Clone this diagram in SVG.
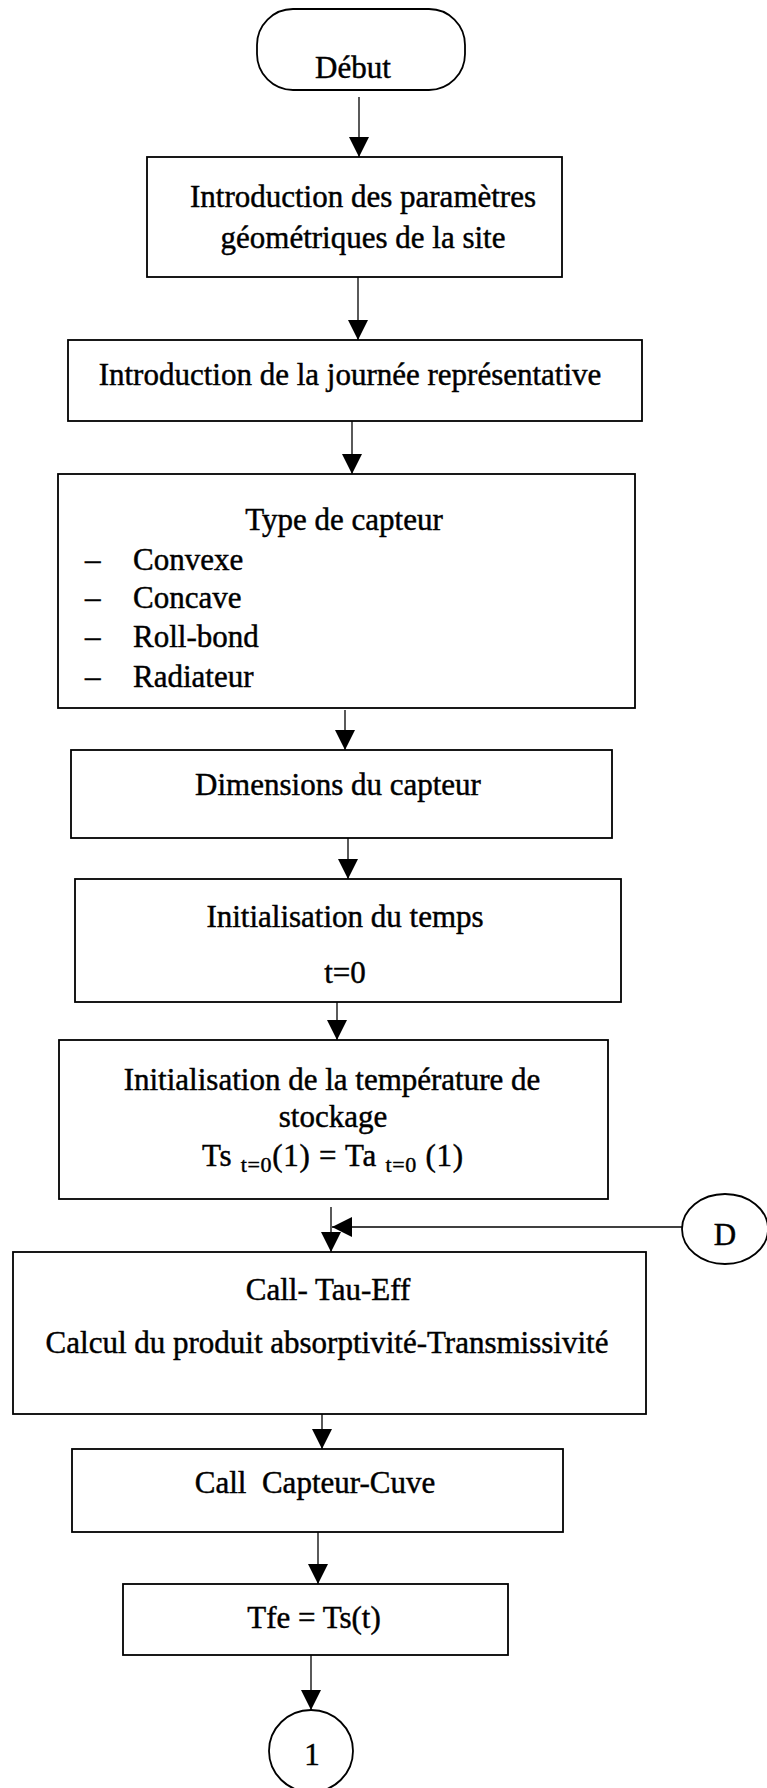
<svg xmlns="http://www.w3.org/2000/svg" width="767" height="1788" viewBox="0 0 767 1788">
  <defs>
    <style>
      .box { fill: #ffffff; stroke: #000000; stroke-width: 1.8; }
      .edge { fill: none; stroke: #000000; stroke-width: 1.3; }
      .t { font-family: "Liberation Serif", "Times New Roman", serif; font-size: 31px; fill: #000000; stroke: #000000; stroke-width: 0.45; }
      .c { text-anchor: middle; }
      .sub { font-size: 22px; }
    </style>
    <marker id="arrow" viewBox="0 0 20 20" refX="20" refY="10" markerWidth="20" markerHeight="20" markerUnits="userSpaceOnUse" orient="auto">
      <path d="M0,0 L20,10 L0,20 Z" fill="#000000"/>
    </marker>
  </defs>

  <rect width="767" height="1788" fill="#ffffff"/>

  <!-- connectors -->
  <g id="connectors">
    <line class="edge" x1="359" y1="97" x2="359" y2="157" marker-end="url(#arrow)"/>
    <line class="edge" x1="358" y1="277" x2="358" y2="340" marker-end="url(#arrow)"/>
    <line class="edge" x1="352" y1="421" x2="352" y2="474" marker-end="url(#arrow)"/>
    <line class="edge" x1="345" y1="710" x2="345" y2="750" marker-end="url(#arrow)"/>
    <line class="edge" x1="348" y1="838" x2="348" y2="879" marker-end="url(#arrow)"/>
    <line class="edge" x1="337" y1="1002" x2="337" y2="1040" marker-end="url(#arrow)"/>
    <line class="edge" x1="331" y1="1207" x2="331" y2="1252" marker-end="url(#arrow)"/>
    <line class="edge" x1="682" y1="1227" x2="332" y2="1227" marker-end="url(#arrow)"/>
    <line class="edge" x1="322" y1="1414" x2="322" y2="1449" marker-end="url(#arrow)"/>
    <line class="edge" x1="318" y1="1532" x2="318" y2="1584" marker-end="url(#arrow)"/>
    <line class="edge" x1="311" y1="1655" x2="311" y2="1710" marker-end="url(#arrow)"/>
  </g>

  <!-- start terminal -->
  <g id="debut">
    <rect class="box" x="257" y="9" width="208" height="81" rx="36" ry="36"/>
    <text class="t c" x="353" y="78">Début</text>
  </g>

  <g id="parametres-geometriques">
    <rect class="box" x="147" y="157" width="415" height="120"/>
    <text class="t c" x="363" y="207">Introduction des paramètres</text>
    <text class="t c" x="363" y="248">géométriques de la site</text>
  </g>

  <g id="journee-representative">
    <rect class="box" x="68" y="340" width="574" height="81"/>
    <text class="t c" x="350" y="385">Introduction de la journée représentative</text>
  </g>

  <g id="type-capteur">
    <rect class="box" x="58" y="474" width="577" height="234"/>
    <text class="t c" x="344" y="530">Type de capteur</text>
    <text class="t" x="85" y="570">–</text>
    <text class="t" x="133" y="570">Convexe</text>
    <text class="t" x="85" y="608">–</text>
    <text class="t" x="133" y="608">Concave</text>
    <text class="t" x="85" y="647">–</text>
    <text class="t" x="133" y="647">Roll-bond</text>
    <text class="t" x="85" y="687">–</text>
    <text class="t" x="133" y="687">Radiateur</text>
  </g>

  <g id="dimensions">
    <rect class="box" x="71" y="750" width="541" height="88"/>
    <text class="t c" x="338" y="795">Dimensions du capteur</text>
  </g>

  <g id="init-temps">
    <rect class="box" x="75" y="879" width="546" height="123"/>
    <text class="t c" x="345" y="927">Initialisation du temps</text>
    <text class="t c" x="345" y="983">t=0</text>
  </g>

  <g id="init-temperature">
    <rect class="box" x="59" y="1040" width="549" height="159"/>
    <text class="t c" x="332" y="1090">Initialisation de la température de</text>
    <text class="t c" x="333" y="1127">stockage</text>
    <text class="t" x="202" y="1166" textLength="261" lengthAdjust="spacing">Ts <tspan class="sub" dy="6">t=0</tspan><tspan dy="-6">(1) = Ta </tspan><tspan class="sub" dy="6">t=0</tspan><tspan dy="-6"> (1)</tspan></text>
  </g>

  <!-- off-page connector D -->
  <g id="connecteur-d">
    <ellipse class="box" cx="725" cy="1229" rx="43" ry="35"/>
    <text class="t c" x="725" y="1245">D</text>
  </g>

  <g id="call-tau-eff">
    <rect class="box" x="13" y="1252" width="633" height="162"/>
    <text class="t c" x="328" y="1300">Call- Tau-Eff</text>
    <text class="t c" x="327" y="1353">Calcul du produit absorptivité-Transmissivité</text>
  </g>

  <g id="call-capteur-cuve">
    <rect class="box" x="72" y="1449" width="491" height="83"/>
    <text class="t c" x="315" y="1493">Call&#160; Capteur-Cuve</text>
  </g>

  <g id="tfe">
    <rect class="box" x="123" y="1584" width="385" height="71"/>
    <text class="t c" x="314" y="1628">Tfe = Ts(t)</text>
  </g>

  <!-- page connector 1 -->
  <g id="connecteur-1">
    <ellipse class="box" cx="311" cy="1751" rx="42" ry="41"/>
    <text class="t c" x="312" y="1765">1</text>
  </g>
</svg>
